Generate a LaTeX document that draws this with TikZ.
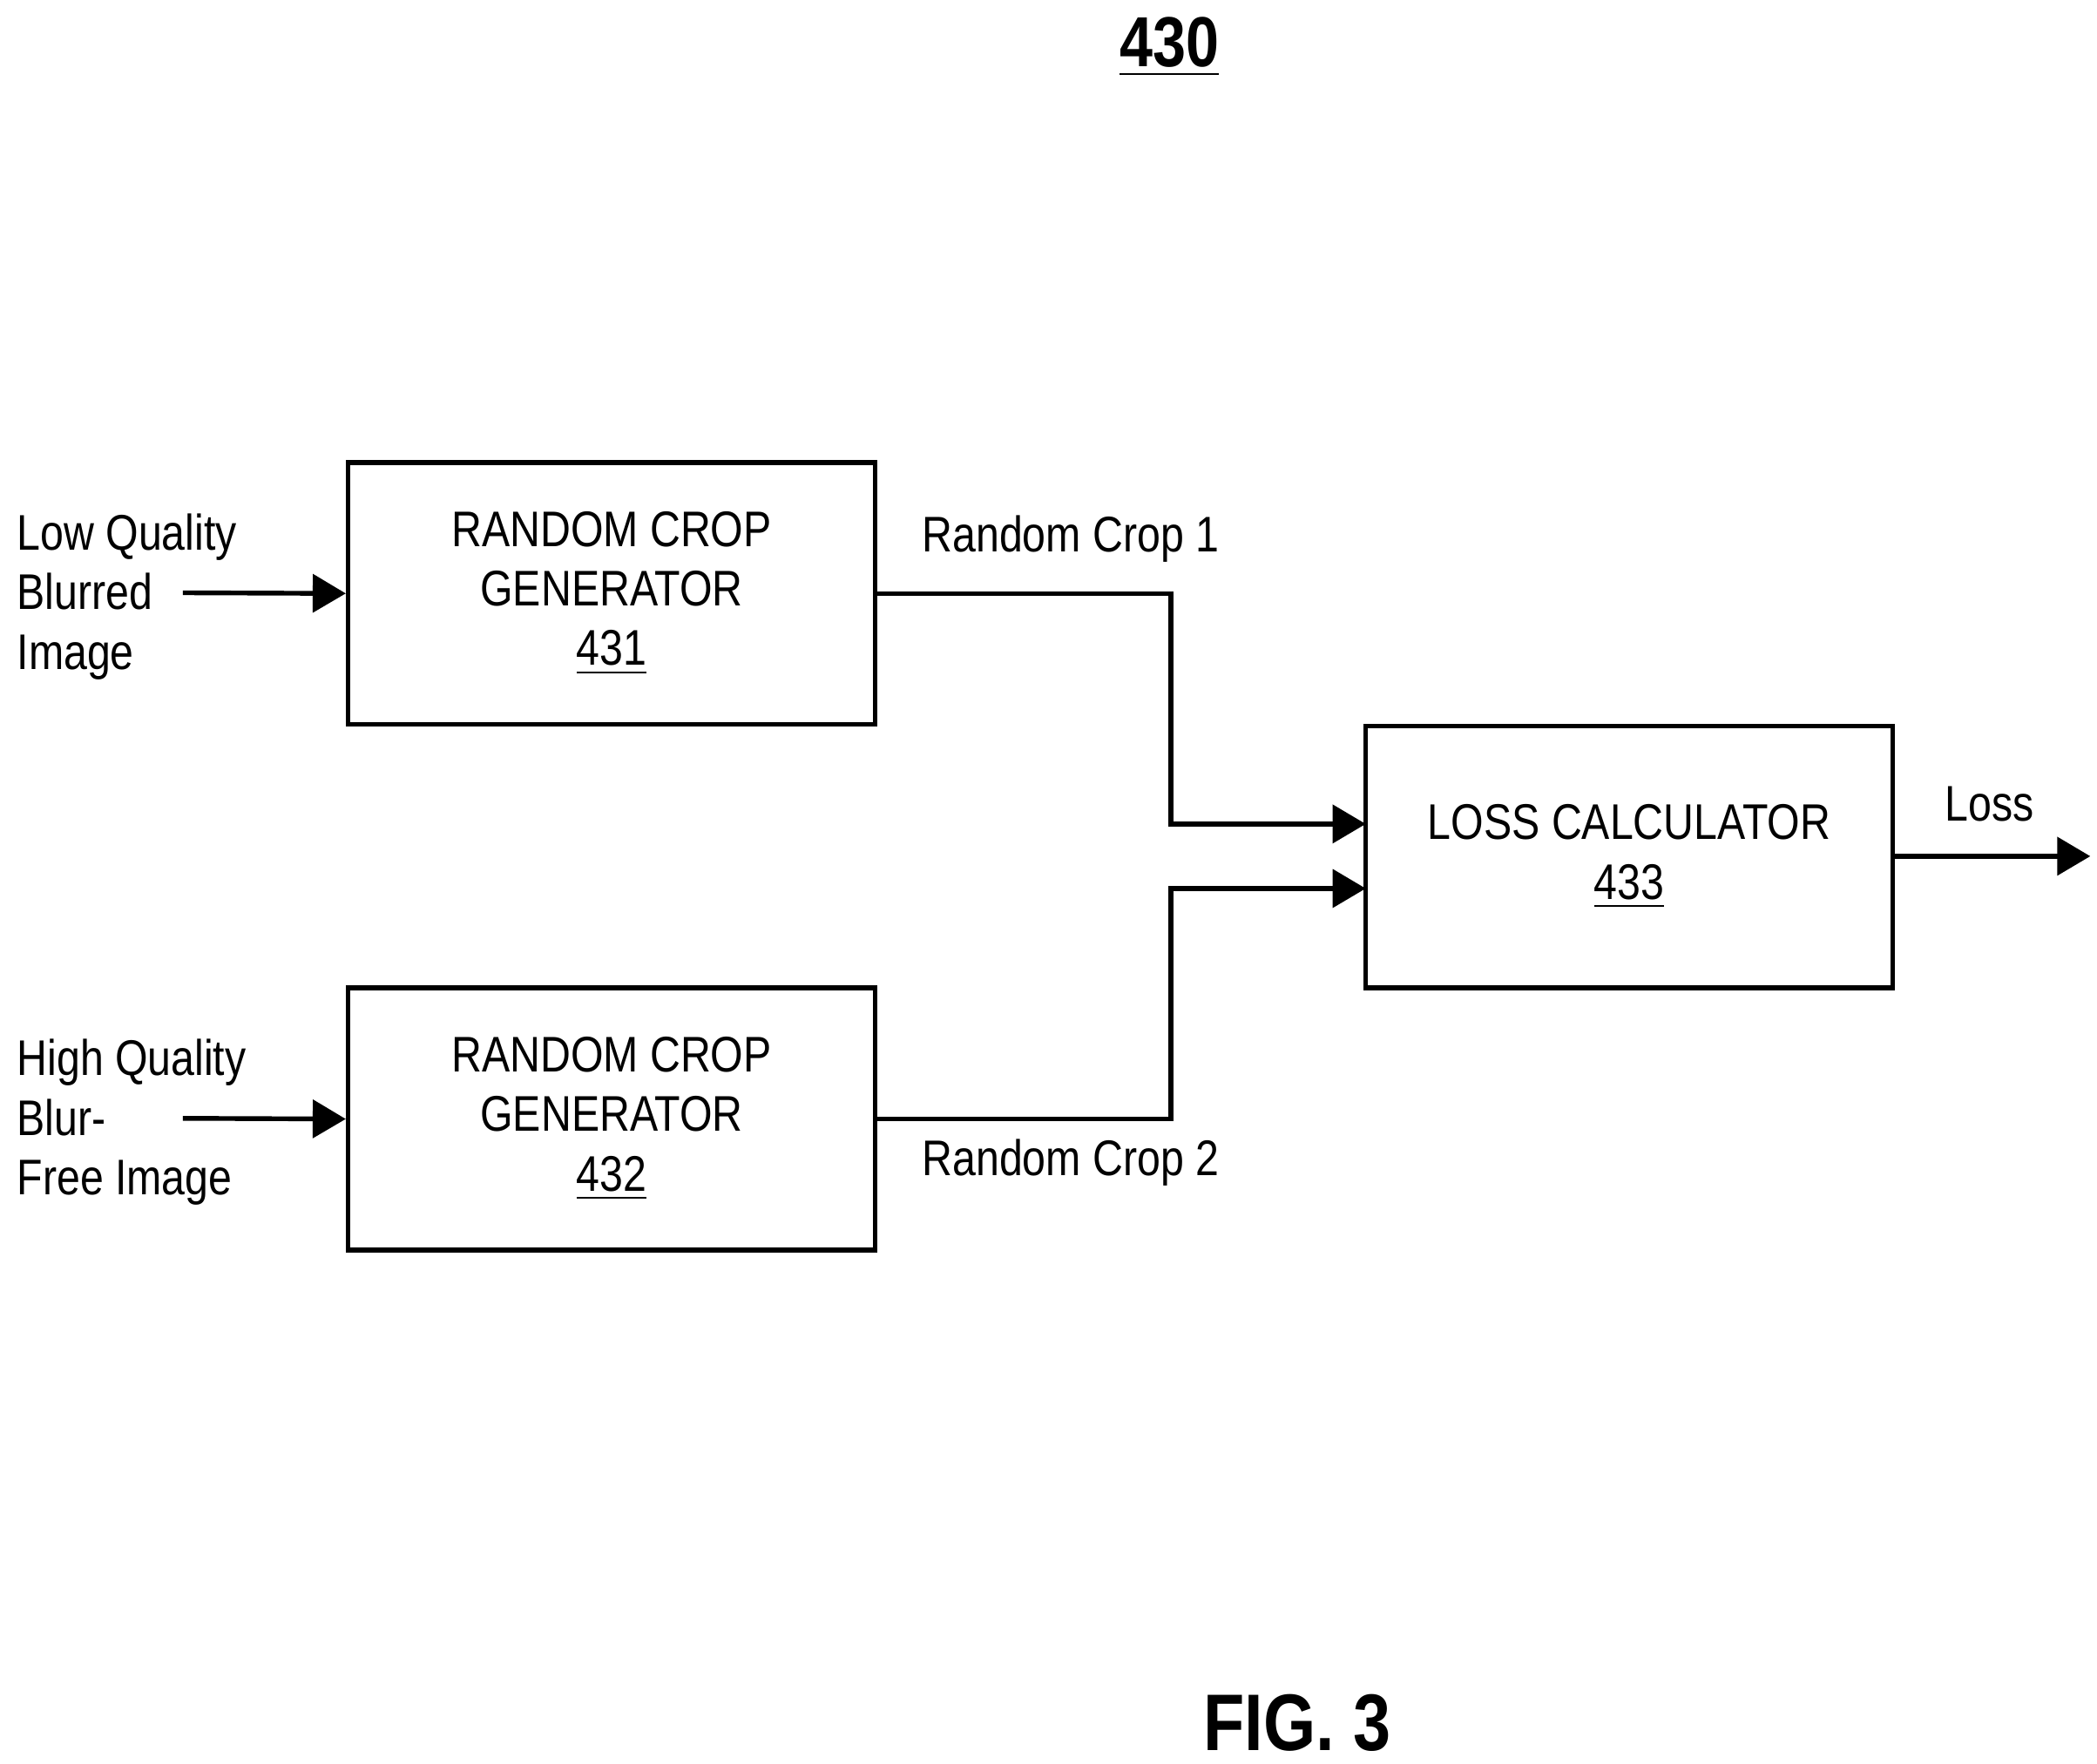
\documentclass[tikz,border=0pt]{standalone}
\usepackage{fontspec}
\setmainfont{Liberation Sans}[FakeStretch=0.84]
\usetikzlibrary{arrows.meta,positioning}
\tikzset{
  blk/.style={draw,line width=1pt,minimum width=3.92cm,minimum height=1.95cm,align=center,inner sep=0pt,font=\fontsize{10.6}{12.6}\selectfont},
  lbl/.style={align=left,font=\fontsize{10.6}{12.6}\selectfont,inner sep=0pt},
  arr/.style={line width=1pt,-{Triangle[length=7pt,width=8pt]}}
}
\begin{document}
\begin{tikzpicture}
\useasboundingbox (0,0) rectangle (15.6,-13.12);
%	title
\node[font=\fontsize{15}{18}\selectfont\bfseries] (title) at (8.7,-0.35) {\underline{430}};

\node[blk] (gen1) at (4.55,-4.415) {RANDOM CROP\\GENERATOR\\\underline{431}};
\node[blk] (gen2) at (4.55,-8.325) {RANDOM CROP\\GENERATOR\\\underline{432}};
\node[blk] (loss) at (12.12,-6.375) {LOSS CALCULATOR\\\underline{433}};

\node[lbl,anchor=west] (in1) at (0.12,-4.44) {Low Quality\\Blurred\\Image};
\node[lbl,anchor=west] (in2) at (0.12,-8.35) {High Quality\\Blur-\\Free Image};
\coordinate (s1) at (1.36,-4.41);
\coordinate (s2) at (1.36,-8.32);
\draw[arr] (s1) -- (gen1.west);
\draw[arr] (s2) -- (gen2.west);

\coordinate (t1) at (10.16,-6.13);
\coordinate (t2) at (10.16,-6.61);
\draw[arr] (gen1.east) -| (8.71,-6.13) -- (t1);
\draw[arr] (gen2.east) -| (8.71,-6.61) -- (t2);
\node[lbl] (rc1) at (7.965,-4.01) {Random Crop 1};
\node[lbl] (rc2) at (7.965,-8.65) {Random Crop 2};

\coordinate (out) at (15.55,-6.37);
\draw[arr] (loss.east |- out) -- (out);
\node[lbl] (lossl) at (14.8,-5.98) {Loss};

\node[font=\fontsize{17}{20}\selectfont\bfseries] (fig) at (9.65,-12.82) {FIG. 3};
\end{tikzpicture}
\end{document}
